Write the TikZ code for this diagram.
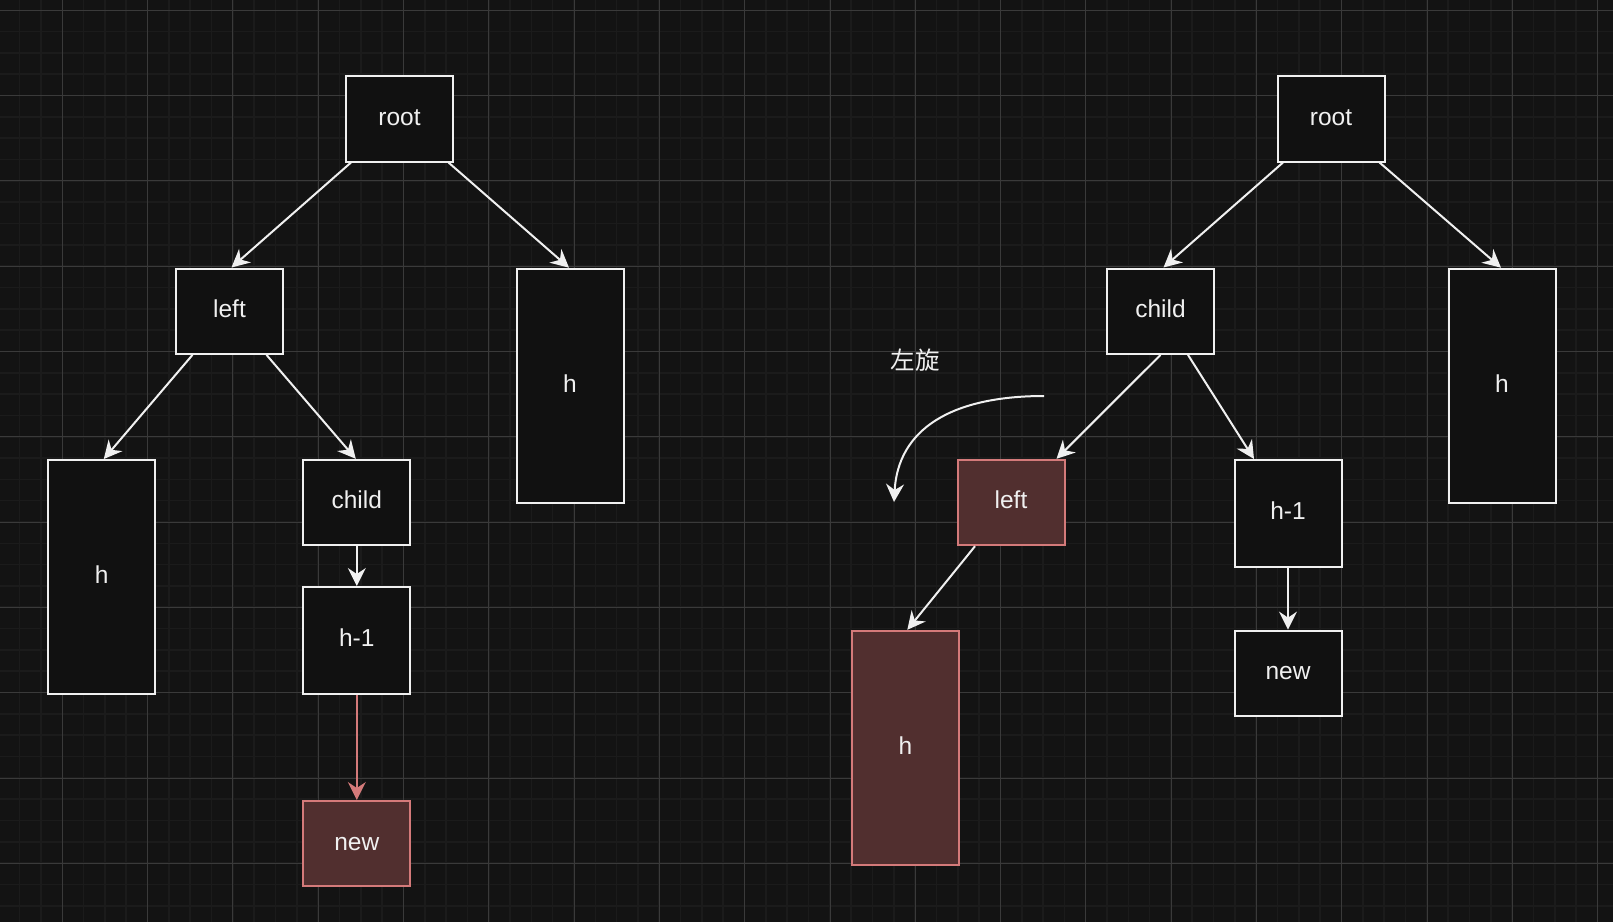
\documentclass[tikz,border=0pt]{standalone}
\usepackage{fontspec}
\setmainfont{Liberation Sans}
\newfontfamily\cjkfont{Noto Sans CJK SC}
\usetikzlibrary{arrows.meta}
\definecolor{bgc}{RGB}{19,19,19}
\definecolor{boxfill}{RGB}{17,17,17}
\definecolor{minorc}{RGB}{27,27,27}
\definecolor{majorc}{RGB}{58,58,58}
\definecolor{whitec}{RGB}{240,240,240}
\definecolor{redfill}{RGB}{81,47,47}
\definecolor{redline}{RGB}{212,122,122}
\tikzset{
  box/.style={draw=whitec, fill=boxfill, line width=2pt, minimum width=107pt, minimum height=85.4pt, inner sep=0pt, text=whitec, text height=17pt, text depth=4.4pt, font=\fontsize{24.5}{29}\selectfont},
  tallbox/.style={box, minimum height=234pt},
  sqbox/.style={box, minimum height=107pt},
  redbox/.style={draw=redline, fill=redfill},
  arr/.style={draw=whitec, line width=2pt, -{Stealth[length=18pt,width=18pt,inset=6pt]}},
  redarr/.style={arr, draw=redline, -{Stealth[length=18pt,width=18pt,inset=6pt,fill=redline]}},
  minorg/.style={draw=minorc, line width=1.6pt},
  majorg/.style={draw=majorc, line width=1pt},
}
\begin{document}
\begin{tikzpicture}[x=1pt,y=-1pt]
\useasboundingbox (0,0) rectangle (1613,922);
\fill[bgc] (0,0) rectangle (1613,922);
% grid
\foreach \i in {0,...,75} {\draw[minorg] ({19.66+21.32*\i},0) -- ({19.66+21.32*\i},922);}
\foreach \i in {0,...,42} {\draw[minorg] (0,{10.3+21.32*\i}) -- (1613,{10.3+21.32*\i});}
\foreach \i in {0,...,18} {\draw[majorg] ({62.3+85.3*\i},0) -- ({62.3+85.3*\i},922);}
\foreach \i in {0,...,10} {\draw[majorg] (0,{10.3+85.3*\i}) -- (1613,{10.3+85.3*\i});}
% left tree
\node[box] (root) at (399.5,118.8) {root};
\node[box] (lleft) at (229.5,311.2) {left};
\node[tallbox] (lh) at (101.8,577) {h};
\node[box] (lchild) at (356.8,502.5) {child};
\node[sqbox] (lh1) at (356.8,640.5) {h-1};
\node[box, redbox] (lnew) at (356.8,843.7) {new};
\node[tallbox] (lhr) at (570,385.7) {h};
% right tree
\node[box] (rroot) at (1331,118.8) {root};
\node[box] (rchild) at (1160.5,311.2) {child};
\node[tallbox] (rh) at (1502,385.7) {h};
\node[box, redbox] (rleft) at (1011,502.5) {left};
\node[tallbox, redbox] (rhred) at (905.3,747.8) {h};
\node[sqbox] (rh1) at (1288,513.5) {h-1};
\node[box] (rnew) at (1288,673.3) {new};
% label
\node[text=whitec, font=\cjkfont\fontsize{24.5}{29}\selectfont] (rot) at (915,360) {左旋};
\coordinate (cs) at (1044,396);
\coordinate (ce) at (894,502);
% arrows left
\draw[arr] ([xshift=-48.5pt]root.south) -- ([xshift=2pt]lleft.north);
\draw[arr] ([xshift=49pt]root.south) -- ([xshift=-1pt]lhr.north);
\draw[arr] ([xshift=-37pt]lleft.south) -- ([xshift=2pt]lh.north);
\draw[arr] ([xshift=37pt]lleft.south) -- ([xshift=-1pt]lchild.north);
\draw[arr] (lchild.south) -- (lh1.north);
\draw[redarr] (lh1.south) -- (lnew.north);
% arrows right
\draw[arr] ([xshift=-48pt]rroot.south) -- ([xshift=3pt]rchild.north);
\draw[arr] ([xshift=48.5pt]rroot.south) -- ([xshift=-1pt]rh.north);
\draw[arr] (rchild.south) -- ([xshift=45.5pt]rleft.north);
\draw[arr] ([xshift=27.5pt]rchild.south) -- ([xshift=-34pt]rh1.north);
\draw[arr] ([xshift=-36pt]rleft.south) -- ([xshift=2pt]rhred.north);
\draw[arr] (rh1.south) -- (rnew.north);
% rotation arrow
\draw[arr] (cs) .. controls (950,396) and (898,430) .. (ce);
\end{tikzpicture}
\end{document}
